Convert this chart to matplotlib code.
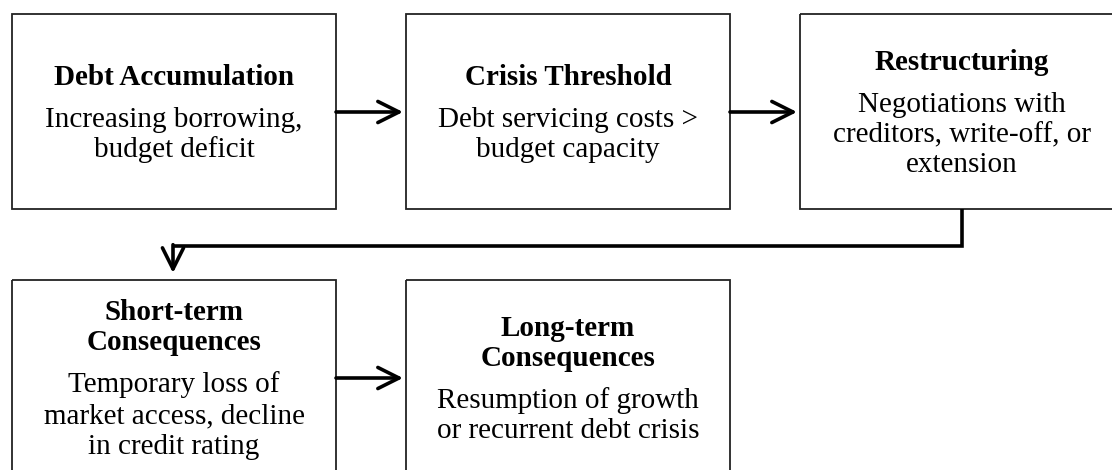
import matplotlib
matplotlib.use("Agg")
import matplotlib.pyplot as plt
from matplotlib.patches import Rectangle

titles = [
    ["Debt Accumulation"],
    ["Crisis Threshold"],
    ["Restructuring"],
    ["Short-term", "Consequences"],
    ["Long-term", "Consequences"],
]
bodies = [
    ["Increasing borrowing,", "budget deficit"],
    ["Debt servicing costs >", "budget capacity"],
    ["Negotiations with", "creditors, write-off, or", "extension"],
    ["Temporary loss of", "market access, decline", "in credit rating"],
    ["Resumption of growth", "or recurrent debt crisis"],
]

# layout (pixel coordinates)
box_x = [12, 406, 800, 12, 406]
box_y = [14, 14, 14, 280, 280]
BW, BH = 324, 195

FONT = "Liberation Serif"
fig = plt.figure(figsize=(11.12, 4.70), dpi=100)
ax = fig.add_axes([0, 0, 1, 1])
ax.set_xlim(0, 1112)
ax.set_ylim(470, 0)
ax.axis("off")

TL, TB, BL = 30, 42, 30.5
for i in range(5):
    x0, y0 = box_x[i], box_y[i]
    ax.add_patch(Rectangle((x0, y0), BW, BH, fill=False, ec="#222222", lw=1.3))
    nt, nb = len(titles[i]), len(bodies[i])
    S = TL * (nt - 1) + TB + BL * (nb - 1)
    b = y0 + 107 - S / 2
    cx = x0 + BW / 2
    for j, t in enumerate(titles[i]):
        ax.text(cx, b + TL * j, t, ha="center", va="baseline", family=FONT,
                fontweight="bold", fontsize=21, color="black")
    b2 = b + TL * (nt - 1) + TB
    for j, t in enumerate(bodies[i]):
        ax.text(cx, b2 + BL * j, t, ha="center", va="baseline", family=FONT,
                fontsize=21, color="black")

arrow_kw = dict(arrowstyle="->", lw=2.6, color="black", mutation_scale=38,
                shrinkA=0, shrinkB=0)
# horizontal arrows
for (a, bb) in [(0, 1), (1, 2), (3, 4)]:
    y = box_y[a] + 98
    ax.annotate("", xy=(box_x[bb] - 3, y), xytext=(box_x[a] + BW, y),
                arrowprops=arrow_kw)

# connector from box 3 to box 4
xs = box_x[2] + BW / 2
ymid = 246
xe = box_x[3] + 161
ax.plot([xs, xs, xe], [box_y[2] + BH, ymid, ymid], color="black", lw=2.6,
        solid_joinstyle="miter", solid_capstyle="butt")
ax.annotate("", xy=(xe, box_y[3] - 7), xytext=(xe, ymid - 1.3),
            arrowprops=arrow_kw)

fig.savefig("out.png", dpi=100, facecolor="white")
